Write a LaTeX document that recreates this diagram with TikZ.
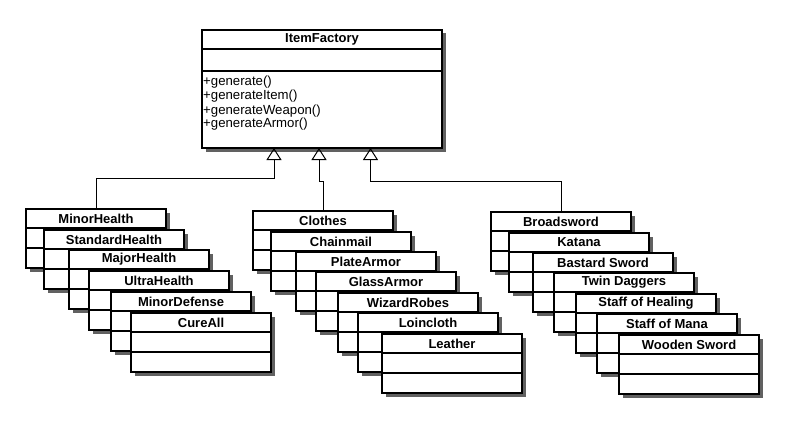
\documentclass[tikz,border=0pt]{standalone}
\usepackage{fontspec}
\setmainfont{Liberation Sans}
\usetikzlibrary{arrows.meta,shadows}
\tikzset{
    umlbox/.style={draw,line width=1.8pt,fill=white,inner sep=0pt,outer sep=0pt,anchor=north west,
        drop shadow={shadow xshift=3.5pt,shadow yshift=-3.5pt,opacity=1,fill=black!62}},
    itemclass/.style={umlbox,minimum width=140pt,minimum height=59pt},
    classname/.style={font=\bfseries\fontsize{13}{15}\selectfont,inner sep=0pt},
    method/.style={font=\fontsize{13.2}{15}\selectfont,inner sep=0pt,anchor=base west},
    inherit/.style={line width=1pt,-{Triangle[open,width=15pt,length=12pt]}}
}
\newcommand{\itembox}[4]{%
    \node[itemclass] (#1) at (#2,#3) {};
    \node[classname] (#1-name) at ([yshift=-9.5pt]#1.north) {#4};
    \draw[line width=1.8pt] ([yshift=-19pt]#1.north west) -- ([yshift=-19pt]#1.north east);
    \draw[line width=1.8pt] ([yshift=-39pt]#1.north west) -- ([yshift=-39pt]#1.north east);
}
\begin{document}
\begin{tikzpicture}[x=1pt,y=-1pt]
    \useasboundingbox (0,0) rectangle (805,425);
    \node[umlbox,minimum width=240pt,minimum height=118pt] (factory) at (202,30) {};
    \node[classname] (factory-name) at ([yshift=-9.5pt]factory.north) {ItemFactory};
    \draw[line width=1.8pt] ([yshift=-19pt]factory.north west) -- ([yshift=-19pt]factory.north east);
    \draw[line width=1.8pt] ([yshift=-41pt]factory.north west) -- ([yshift=-41pt]factory.north east);
    \foreach \m [count=\k] in {generate(),generateItem(),generateWeapon(),generateArmor()}{
        \node[method] (op\k) at (203,72+14*\k) {+\m};
    }
    \foreach \id/\x/\y/\lbl in {minorhealth/26/209/MinorHealth,standardhealth/44/230/StandardHealth,
        majorhealth/69/250/MajorHealth,ultrahealth/89/271/UltraHealth,
        minordefense/111/292/MinorDefense,cureall/131/313/CureAll}{
        \itembox{\id}{\x}{\y}{\lbl}
    }
    \foreach \id/\x/\y/\lbl in {clothes/253/211/Clothes,chainmail/271/232/Chainmail,
        platearmor/296/252/PlateArmor,glassarmor/316/272/GlassArmor,
        wizardrobes/338/293/WizardRobes,loincloth/358/313/Loincloth,leather/382/334/Leather}{
        \itembox{\id}{\x}{\y}{\lbl}
    }
    \foreach \id/\x/\y/\lbl in {broadsword/491/212/Broadsword,katana/509/233/Katana,
        bastardsword/533/253/Bastard Sword,twindaggers/554/273/Twin Daggers,
        staffofhealing/576/294/Staff of Healing,staffofmana/597/314/Staff of Mana,
        woodensword/619/335/Wooden Sword}{
        \itembox{\id}{\x}{\y}{\lbl}
    }
    \coordinate (t1) at ([xshift=-48pt]factory.south);
    \coordinate (t2) at ([xshift=-3pt]factory.south);
    \coordinate (t3) at ([xshift=48.5pt]factory.south);
    \draw[inherit] (minorhealth.north) -- ++(0,-31) -| (t1);
    \draw[inherit] (clothes.north) -- ++(0,-30) -| (t2);
    \draw[inherit] (broadsword.north) -- ++(0,-31) -| (t3);
\end{tikzpicture}
\end{document}
